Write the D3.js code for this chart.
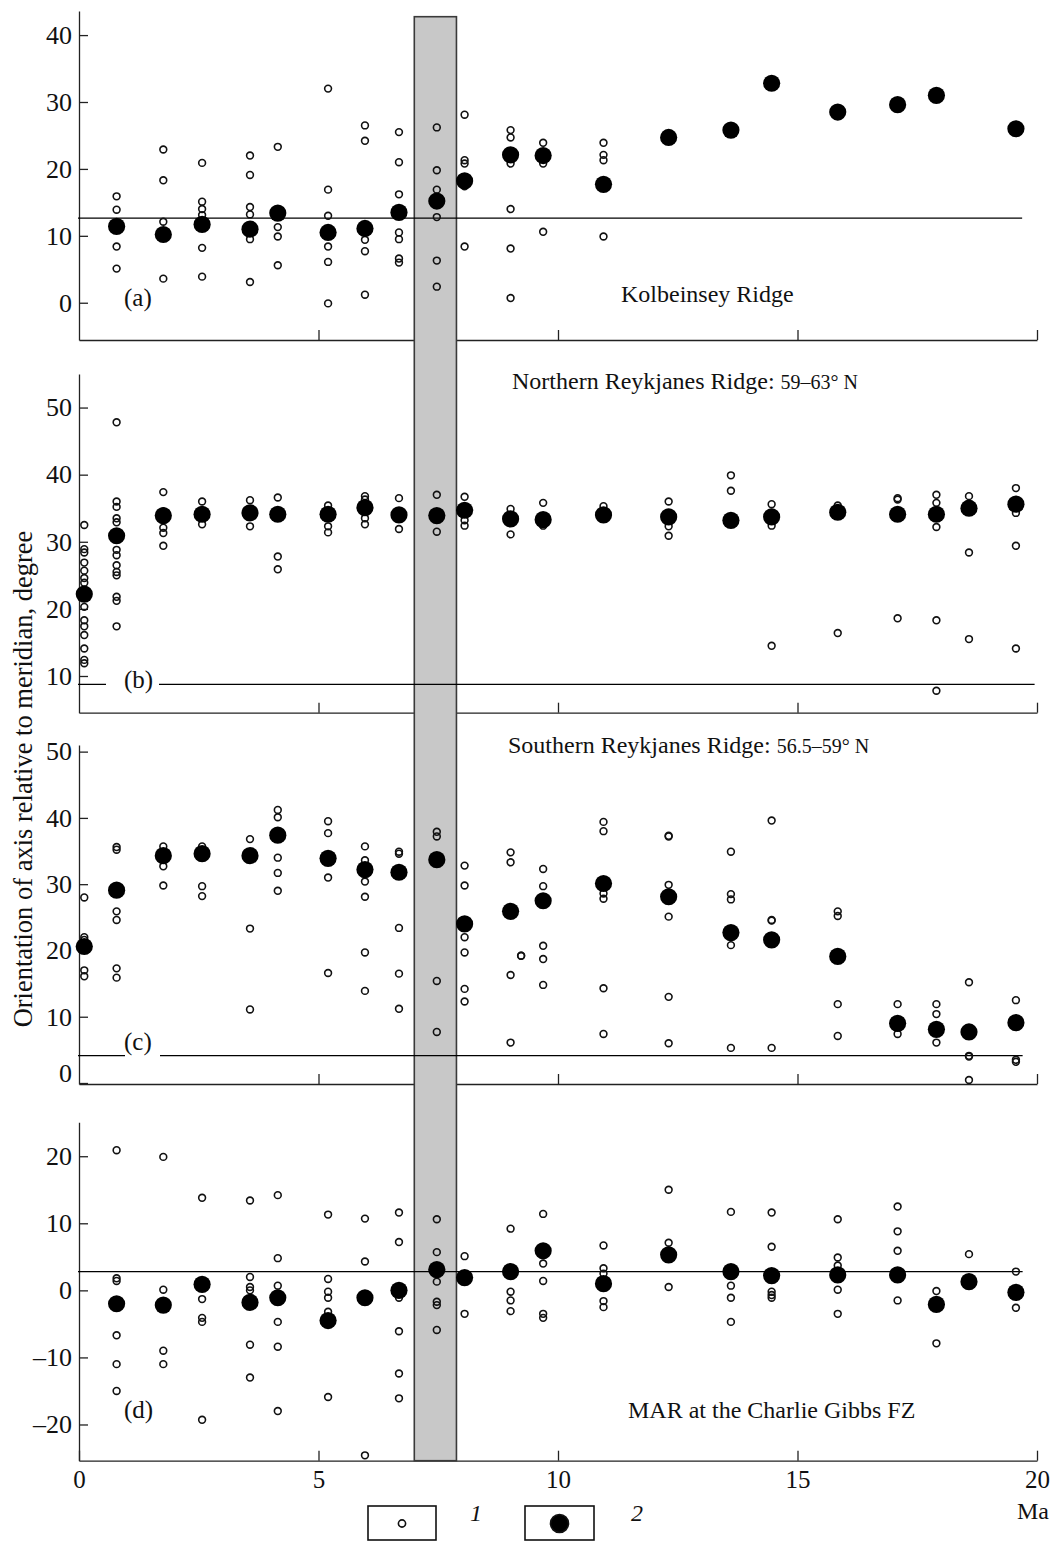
<!DOCTYPE html>
<html>
<head>
<meta charset="utf-8">
<script src="https://cdn.jsdelivr.net/npm/d3@7"></script>
<style>
  body { margin: 0; background: #fff; }
  svg { display: block; font-family: "Liberation Serif", "Times New Roman", serif; }
</style>
</head>
<body>
<div id="chart"></div>
<script>
// Axis orientation relative to meridian (degree) vs. age (Ma)
// open = individual measurements (1), mean = averaged value (2)

const xTicks = [0, 5, 10, 15, 20];
const grayBand = [7.0, 7.88];

// (a) Kolbeinsey Ridge
const kolbeinseyOpen = [
  [0.785, [15.9, 13.9, 8.4, 5.1]],
  [1.76, [22.9, 18.3, 12.1, 3.6]],
  [2.57, [20.9, 15.1, 14.0, 13.1, 8.2, 3.9]],
  [3.57, [22.0, 19.1, 14.3, 13.2, 9.5, 3.1]],
  [4.15, [23.3, 11.3, 9.9, 5.6]],
  [5.20, [32.0, 16.9, 13.0, 8.4, 6.1, -0.1]],
  [5.97, [26.5, 24.2, 9.4, 7.7, 1.2]],
  [6.68, [25.5, 21.0, 16.2, 10.5, 9.5, 6.6, 6.0]],
  [7.47, [26.2, 19.8, 16.9, 12.8, 6.3, 2.4]],
  [8.05, [28.1, 21.3, 20.8, 17.4, 8.4]],
  [9.01, [25.8, 24.7, 20.8, 14.0, 8.1, 0.7]],
  [9.69, [23.9, 20.8, 10.6]],
  [10.95, [23.9, 22.1, 21.3, 9.9]]
];
const kolbeinseyMean = [
  [0.785, 11.4], [1.76, 10.2], [2.57, 11.7], [3.57, 11.0], [4.15, 13.4],
  [5.20, 10.5], [5.97, 11.1], [6.68, 13.5], [7.47, 15.2], [8.05, 18.2],
  [9.01, 22.1], [9.69, 22.0], [10.95, 17.7], [12.31, 24.7], [13.61, 25.8],
  [14.46, 32.8], [15.84, 28.5], [17.09, 29.6], [17.90, 31.0], [19.56, 26.0]
];

// (b) Northern Reykjanes Ridge
const northOpen = [
  [0.11, [32.5, 28.9, 28.4, 26.9, 25.7, 24.6, 23.9, 22.8, 20.3, 18.3, 17.4, 16.1, 14.1, 12.4, 11.9]],
  [0.785, [47.8, 36.0, 35.2, 33.5, 32.9, 28.8, 28.0, 26.5, 25.5, 25.0, 21.8, 21.2, 17.4]],
  [1.76, [37.4, 34.5, 32.1, 31.3, 29.4]],
  [2.57, [36.0, 32.6]],
  [3.57, [36.2, 32.3]],
  [4.15, [36.6, 27.8, 25.9]],
  [5.20, [35.4, 32.3, 31.4]],
  [5.97, [36.8, 36.3, 33.5, 32.6]],
  [6.68, [36.5, 31.9]],
  [7.47, [37.0, 31.5]],
  [8.05, [36.7, 33.2, 32.4]],
  [9.01, [34.9, 31.1]],
  [9.69, [35.8, 32.4]],
  [10.95, [35.3]],
  [12.31, [36.0, 32.3, 30.9]],
  [13.61, [39.9, 37.6]],
  [14.46, [35.6, 32.4, 14.5]],
  [15.84, [35.4, 16.4]],
  [17.09, [36.5, 36.3, 18.6]],
  [17.90, [37.0, 35.8, 32.2, 18.3, 7.8]],
  [18.58, [36.8, 28.4, 15.5]],
  [19.56, [38.0, 34.3, 29.4, 14.1]]
];
const northMean = [
  [0.11, 22.2], [0.785, 30.9], [1.76, 33.9], [2.57, 34.1], [3.57, 34.3],
  [4.15, 34.1], [5.20, 34.1], [5.97, 35.1], [6.68, 34.0], [7.47, 33.9],
  [8.05, 34.7], [9.01, 33.4], [9.69, 33.3], [10.95, 34.0], [12.31, 33.7],
  [13.61, 33.2], [14.46, 33.7], [15.84, 34.4], [17.09, 34.1], [17.90, 34.1],
  [18.58, 35.0], [19.56, 35.6]
];

// (c) Southern Reykjanes Ridge
const southOpen = [
  [0.11, [28.0, 22.0, 21.6, 17.0, 16.1]],
  [0.785, [35.6, 35.2, 25.9, 24.6, 17.3, 15.9]],
  [1.76, [35.7, 32.7, 29.8]],
  [2.57, [35.7, 29.7, 28.2]],
  [3.57, [36.8, 23.3, 11.1]],
  [4.15, [41.2, 40.1, 34.0, 31.7, 29.0]],
  [5.20, [39.5, 37.7, 31.0, 16.6]],
  [5.97, [35.7, 33.6, 30.4, 28.1, 19.7, 13.9]],
  [6.68, [34.9, 34.6, 23.4, 16.5, 11.2]],
  [7.47, [37.9, 37.2, 15.4, 7.7]],
  [8.05, [32.8, 29.8, 22.0, 19.7, 14.2, 12.3]],
  [9.01, [34.8, 33.3, 16.3, 6.1]],
  [9.23, [19.2, 19.2]],
  [9.69, [32.3, 29.7, 20.7, 18.7, 14.8]],
  [10.95, [39.4, 38.0, 28.6, 27.8, 14.3, 7.4]],
  [12.31, [37.3, 37.2, 29.9, 25.1, 13.0, 6.0]],
  [13.61, [34.9, 28.5, 27.7, 20.8, 5.3]],
  [14.46, [39.6, 24.6, 24.5, 5.3]],
  [15.84, [25.9, 25.2, 11.9, 7.1]],
  [17.09, [11.9, 7.4]],
  [17.90, [11.9, 10.4, 6.1]],
  [18.58, [15.2, 4.1, 4.0, 0.45]],
  [19.56, [12.5, 3.5, 3.2]]
];
const southMean = [
  [0.11, 20.6], [0.785, 29.1], [1.76, 34.3], [2.57, 34.6], [3.57, 34.3],
  [4.15, 37.4], [5.20, 33.9], [5.97, 32.2], [6.68, 31.8], [7.47, 33.7],
  [8.05, 24.0], [9.01, 25.9], [9.69, 27.5], [10.95, 30.1], [12.31, 28.1],
  [13.61, 22.7], [14.46, 21.6], [15.84, 19.1], [17.09, 9.0], [17.90, 8.1],
  [18.58, 7.7], [19.56, 9.1]
];

// (d) MAR at the Charlie Gibbs FZ
const gibbsOpen = [
  [0.785, [20.9, 1.8, 1.4, -6.7, -11.0, -15.0]],
  [1.76, [19.9, 0.1, -9.0, -11.0]],
  [2.57, [13.8, -1.3, -4.1, -4.7, -19.3]],
  [3.57, [13.4, 2.0, 0.5, 0.0, -8.1, -13.0]],
  [4.15, [14.2, 4.8, 0.7, -4.7, -8.4, -18.0]],
  [5.20, [11.3, 1.7, -0.2, -1.1, -3.2, -15.9]],
  [5.97, [10.7, 4.3, -24.6]],
  [6.68, [11.6, 7.2, -1.1, -6.1, -12.4, -16.1]],
  [7.47, [10.6, 5.7, 1.3, -1.7, -2.2, -5.9]],
  [8.05, [5.1, -3.5]],
  [9.01, [9.2, -0.2, -1.5, -3.1]],
  [9.69, [11.4, 4.0, 1.4, -3.5, -4.1]],
  [10.95, [6.7, 3.3, 2.5, -1.6, -2.5]],
  [12.31, [15.0, 7.1, 0.5]],
  [13.61, [11.7, 0.7, -1.1, -4.7]],
  [14.46, [11.6, 6.5, -0.2, -0.7, -1.1]],
  [15.84, [10.6, 4.9, 3.7, 0.1, -3.5]],
  [17.09, [12.5, 8.8, 5.9, -1.5]],
  [17.90, [-0.1, -7.9]],
  [18.58, [5.4]],
  [19.56, [2.8, -2.6]]
];
const gibbsMean = [
  [0.785, -2.0], [1.76, -2.2], [2.57, 0.9], [3.57, -1.8], [4.15, -1.1],
  [5.20, -4.5], [5.97, -1.1], [6.68, 0.0], [7.47, 3.1], [8.05, 1.9],
  [9.01, 2.8], [9.69, 5.9], [10.95, 1.0], [12.31, 5.3], [13.61, 2.8],
  [14.46, 2.2], [15.84, 2.3], [17.09, 2.3], [17.90, -2.1], [18.58, 1.3],
  [19.56, -0.3]
];

const panels = [
  { key: 'a', label: '(a)', title: ['Kolbeinsey Ridge', ''],
    open: kolbeinseyOpen, mean: kolbeinseyMean, ref: 12.65, refEnd: 19.69,
    yTicks: [0, 10, 20, 30, 40] },
  { key: 'b', label: '(b)', title: ['Northern Reykjanes Ridge: ', '59\u201363\u00b0 N'],
    open: northOpen, mean: northMean, ref: 8.76, refEnd: 19.95,
    yTicks: [10, 20, 30, 40, 50] },
  { key: 'c', label: '(c)', title: ['Southern Reykjanes Ridge: ', '56.5\u201359\u00b0 N'],
    open: southOpen, mean: southMean, ref: 4.12, refEnd: 19.7,
    yTicks: [0, 10, 20, 30, 40, 50] },
  { key: 'd', label: '(d)', title: ['MAR at the Charlie Gibbs FZ', ''],
    open: gibbsOpen, mean: gibbsMean, ref: 2.8, refEnd: 19.7,
    yTicks: [-20, -10, 0, 10, 20] }
];

// layout (pixels) for each panel
const layout = {
  a: { top: 11, bottom: 340, domain: [-5.57, 43.6], titleX: 621, titleY: 302, labelY: 306, gap: null },
  b: { top: 374, bottom: 712.7, domain: [4.53, 55], titleX: 512, titleY: 389, labelY: 688, gap: [106, 159] },
  c: { top: 745, bottom: 1084, domain: [-0.15, 51], titleX: 508, titleY: 752.7, labelY: 1050, gap: [125, 160] },
  d: { top: 1122.3, bottom: 1460.7, domain: [-25.4, 25.06], titleX: 628, titleY: 1418, labelY: 1418, gap: null }
};

const W = 1055, H = 1543;
const svg = d3.select('#chart').append('svg')
  .attr('width', W).attr('height', H)
  .attr('viewBox', `0 0 ${W} ${H}`);

svg.append('rect').attr('width', W).attr('height', H).attr('fill', '#fff');

const x = d3.scaleLinear().domain([0, 20]).range([79, 1037]);
const fmt = d => d < 0 ? '\u2013' + (-d) : String(d);

const axisLayer = svg.append('g');
const bandLayer = svg.append('g');
const markLayer = svg.append('g');

panels.forEach(p => {
  const L = layout[p.key];
  const y = d3.scaleLinear().domain(L.domain).range([L.bottom, L.top]);

  // y axis (ticks pointing inward)
  const ya = axisLayer.append('g')
    .attr('transform', `translate(${x(0)},0)`)
    .attr('color', '#222')
    .call(d3.axisLeft(y).tickValues(p.yTicks).tickFormat(fmt)
      .tickSizeInner(-9).tickSizeOuter(0).tickPadding(7));
  ya.attr('font-family', null).attr('font-size', 26);
  ya.selectAll('path, line').attr('stroke-width', 1.3);
  ya.selectAll('text').attr('fill', '#111');
  if (p.key === 'c') {
    ya.selectAll('.tick').filter(d => d === 0).select('text').attr('y', -10);
  }

  // x axis (ticks pointing inward)
  const last = p.key === 'd';
  const xa = axisLayer.append('g')
    .attr('transform', `translate(0,${L.bottom})`)
    .attr('color', '#222')
    .call(d3.axisBottom(x).tickValues(last ? xTicks : xTicks.slice(1))
      .tickFormat(last ? d3.format('d') : '')
      .tickSizeInner(-10).tickSizeOuter(0).tickPadding(10));
  xa.attr('font-family', null).attr('font-size', 25);
  xa.selectAll('path, line').attr('stroke-width', 1.3);
  xa.selectAll('text').attr('fill', '#111');

  // reference line
  markLayer.append('line')
    .attr('x1', x(0) - 1).attr('x2', x(p.refEnd))
    .attr('y1', y(p.ref)).attr('y2', y(p.ref))
    .attr('stroke', '#000').attr('stroke-width', 1.3);

  // panel label, breaking the reference line where it sits on it
  if (L.gap) {
    markLayer.append('rect')
      .attr('x', L.gap[0]).attr('width', L.gap[1] - L.gap[0])
      .attr('y', y(p.ref) - 4).attr('height', 8)
      .attr('fill', '#fff');
  }
  markLayer.append('text')
    .attr('x', 124).attr('y', L.labelY)
    .attr('font-size', 25).attr('fill', '#111')
    .text(p.label);

  // title
  const t = markLayer.append('text')
    .attr('x', L.titleX).attr('y', L.titleY)
    .attr('font-size', 24).attr('fill', '#111');
  t.append('tspan').text(p.title[0]);
  if (p.title[1]) t.append('tspan').attr('font-size', 20).text(p.title[1]);

  // individual measurements
  const pts = p.open.flatMap(([age, vals]) => vals.map(v => [age, v]));
  markLayer.append('g').selectAll('circle').data(pts).join('circle')
    .attr('cx', d => x(d[0])).attr('cy', d => y(d[1])).attr('r', 3.4)
    .attr('fill', 'none').attr('stroke', '#111').attr('stroke-width', 1.6);

  // averages
  markLayer.append('g').selectAll('circle').data(p.mean).join('circle')
    .attr('cx', d => x(d[0])).attr('cy', d => y(d[1])).attr('r', 8.6)
    .attr('fill', '#000');
});

// gray time interval band across all panels
bandLayer.append('rect')
  .attr('x', x(grayBand[0])).attr('width', x(grayBand[1]) - x(grayBand[0]))
  .attr('y', 16.7).attr('height', 1460.7 - 16.7)
  .attr('fill', '#c8c8c8').attr('stroke', '#3a3a3a').attr('stroke-width', 1.6);

// axis titles
svg.append('text')
  .attr('transform', 'translate(32,779) rotate(-90)')
  .attr('text-anchor', 'middle').attr('font-size', 26.5).attr('fill', '#111')
  .text('Orientation of axis relative to meridian, degree');

svg.append('text')
  .attr('x', 1049).attr('y', 1519).attr('text-anchor', 'end')
  .attr('font-size', 24).attr('fill', '#111')
  .text('Ma');

// legend
const legend = [
  { label: '1', r: 3.6, fill: 'none', box: [368, 436], textX: 470 },
  { label: '2', r: 9, fill: '#000', box: [525, 594], textX: 631 }
];
const lg = svg.append('g');
legend.forEach(l => {
  lg.append('rect')
    .attr('x', l.box[0]).attr('y', 1506)
    .attr('width', l.box[1] - l.box[0]).attr('height', 34)
    .attr('fill', '#fff').attr('stroke', '#111').attr('stroke-width', 1.6);
  lg.append('circle')
    .attr('cx', (l.box[0] + l.box[1]) / 2).attr('cy', 1523.5).attr('r', l.r)
    .attr('fill', l.fill).attr('stroke', '#111').attr('stroke-width', 1.6);
  lg.append('text')
    .attr('x', l.textX).attr('y', 1521)
    .attr('font-size', 24).attr('font-style', 'italic').attr('fill', '#111')
    .text(l.label);
});
</script>
</body>
</html>
